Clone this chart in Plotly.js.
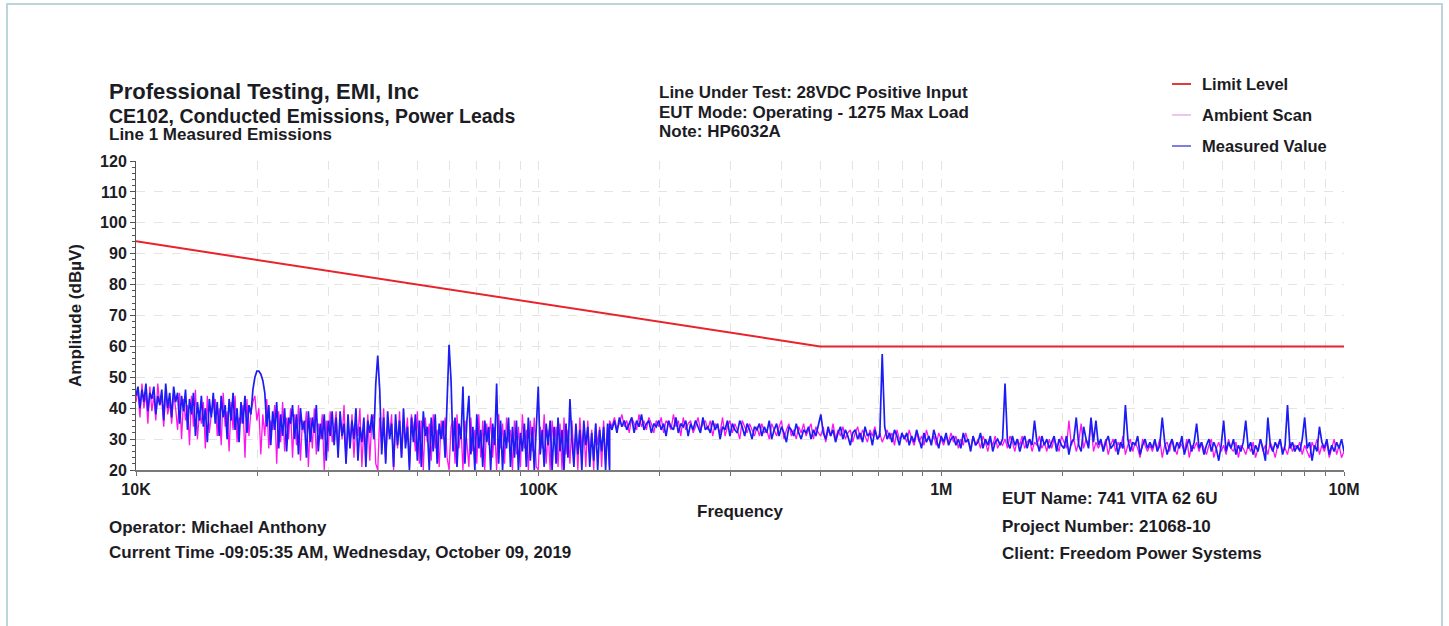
<!DOCTYPE html>
<html>
<head>
<meta charset="utf-8">
<script src="https://cdn.plot.ly/plotly-3.0.1.min.js"></script>
<style>
  html, body { margin: 0; padding: 0; background: #ffffff; }
  #frame { position: absolute; left: 6px; top: 3px; width: 1437px; height: 700px; border: 2px solid #bcd5dd; box-sizing: border-box; pointer-events: none; }
  #chart { position: absolute; left: 0; top: 0; width: 1449px; height: 626px; }
</style>
</head>
<body>
<div id="chart"></div>
<div id="frame"></div>
<script>
// ---- Data (dBµV) ----
// Band 1: 10 kHz .. 150 kHz sweep
const MEASURED_LOW = [
  44,47,40,46,42,48,39,45,43,47,38,44,41,46,36,48,40,45,37,47,
  42,45,35,44,39,46,33,43,38,45,31,42,36,44,34,40,29,43,37,45,
  35,42,31,44,37,41,30,43,36,45,33,40,29,42,35,44,32,41,38,46,
  50,52,52,51,49,45,34,41,28,39,33,42,27,38,31,40,26,37,35,41,
  30,38,25,40,33,36,24,39,29,37,32,41,26,35,30,38,23,36,31,39,
  28,37,24,39,31,35,22,38,27,36,30,40,23,34,29,37,21,36,32,38,
  30,48,57,46,25,37,22,39,30,35,21,38,28,36,24,40,27,34,20,37,
  29,38,23,36,21,39,31,34,20,37,26,38,22,35,30,36,24,45,60.5,49,
  26,37,21,35,30,47,22,36,44,25,34,20,38,27,33,21,36,29,34,20,
  35,28,48,22,36,20,33,27,37,21,34,24,36,20,32,26,35,21,37,23,
  34,20,36,47,25,33,21,35,28,36,20,34,22,37,26,33,20,35,24,43,
  30,21,35,25,33,20,36,28,34,21,32,23,35,20,33,26,34,20,35,20
];
const AMBIENT_LOW = [
  42,46,37,48,40,45,35,47,39,44,36,48,41,43,34,46,38,42,35,45,
  40,33,45,30,43,36,41,28,44,34,46,30,39,35,42,27,44,32,38,41,
  43,31,40,28,45,34,39,26,42,33,44,29,37,35,41,24,43,31,39,42,
  44,36,40,25,38,31,43,27,36,33,41,22,39,29,42,26,37,30,40,24,
  38,28,41,23,36,32,39,21,37,27,40,25,35,30,38,20,36,26,39,29,
  33,39,25,37,30,41,22,35,28,38,24,36,31,40,21,34,27,38,23,36,
  38,22,20,37,28,40,23,35,31,38,20,36,27,39,24,34,30,37,21,38,
  34,26,39,22,36,20,37,29,35,23,38,27,33,21,36,30,37,24,20,34,
  36,22,38,27,34,20,36,29,21,37,26,33,22,38,24,36,20,35,28,37,
  24,34,20,38,27,35,22,37,29,33,20,36,25,34,21,38,27,33,20,36,
  26,37,21,20,34,27,38,22,33,20,36,28,34,21,35,20,37,25,33,22,
  36,24,33,20,37,27,34,21,36,25,33,20,35,28,34,21,36,23,34,21
];
// Band 2: 150 kHz .. 10 MHz sweep
const MEASURED_HIGH = [
  35,33,36,32,37,34,36,33,35,37,32,36,34,38,33,35,36,32,35,34,
  36,33,35,31,36,34,33,37,32,35,34,36,31,35,33,36,34,32,37,33,
  34,32,36,33,35,30,34,33,36,31,35,33,32,36,34,31,35,33,30,34,
  33,35,31,34,32,36,30,33,35,31,34,32,29,34,33,31,35,32,30,33,
  32,34,30,33,31,35,38,32,30,34,31,33,29,32,34,30,33,31,28,32,
  33,30,32,29,34,31,32,28,33,30,31,57.5,34,30,32,29,33,31,28,32,
  30,32,28,31,29,33,30,27,32,29,31,28,33,30,27,31,29,32,28,30,
  31,28,30,27,32,29,30,26,31,28,29,32,27,30,28,31,26,29,30,28,
  30,48,29,27,31,28,30,26,29,31,27,30,28,36,29,26,31,28,30,27,
  29,31,26,30,28,27,31,25,29,30,37,28,26,34,30,27,37,29,36,28,
  30,26,29,31,27,28,30,25,29,27,41,30,26,29,28,31,25,28,30,27,
  29,27,30,26,28,37,29,25,28,30,26,29,27,31,25,28,30,26,29,35,
  27,29,25,28,30,26,29,27,23,28,36,26,29,27,30,25,28,26,29,36,
  27,29,25,28,26,30,27,23,37,28,26,29,27,30,25,28,41,27,29,26,
  28,26,30,37,27,29,23,28,26,34,29,27,30,25,28,26,29,27,30,26
];
const AMBIENT_HIGH = [
  36,34,37,33,35,38,34,36,32,37,35,33,38,34,36,33,37,35,32,36,
  34,37,32,36,35,33,38,34,36,31,37,33,35,36,32,34,37,33,35,36,
  33,36,31,35,34,32,37,31,34,36,32,35,33,30,36,34,32,35,33,31,
  34,31,35,32,33,30,35,33,31,34,36,30,33,35,31,33,30,34,32,35,
  31,33,35,30,34,32,31,34,29,33,31,35,30,33,31,34,30,32,33,29,
  32,34,30,33,31,29,33,31,34,30,32,29,31,33,30,32,28,33,30,31,
  31,29,33,30,28,32,29,31,28,33,30,29,31,28,32,30,28,31,29,32,
  29,31,27,30,28,32,29,27,31,28,30,27,31,29,26,30,28,31,27,29,
  28,30,27,31,29,26,30,28,31,27,29,30,26,29,28,31,27,29,26,30,
  27,30,28,26,31,29,27,36,28,30,26,29,35,27,30,28,36,26,29,27,
  29,27,30,25,28,30,26,29,27,31,25,28,30,26,29,27,24,30,28,26,
  28,26,29,27,30,24,28,29,26,30,27,25,29,28,26,30,24,28,27,29,
  26,29,27,25,28,30,24,27,29,26,28,25,30,27,26,29,24,28,27,25,
  28,26,29,24,27,30,26,28,25,29,27,24,28,30,26,27,25,29,26,28,
  27,29,25,28,26,24,29,27,30,25,28,26,29,24,27,30,25,28,24,26
];
const BAND_EDGES = [1e4, 1.5e5, 1e7];   // sweep band limits (Hz)
const LIMIT_FREQ = [1e4, 5e5, 1e7];
const LIMIT_DB = [94, 60, 60];

const X_TICK_VALUES = [1e4,2e4,3e4,4e4,5e4,6e4,7e4,8e4,9e4,1e5,2e5,3e5,4e5,5e5,6e5,7e5,8e5,9e5,1e6,2e6,3e6,4e6,5e6,6e6,7e6,8e6,9e6,1e7];
const X_TICK_LABELS = ['10K','','','','','','','','','100K','','','','','','','','','1M','','','','','','','','','10M'];
const Y_TICK_VALUES = [20,30,40,50,60,70,80,90,100,110,120];

const HEADER_LEFT = ['Professional Testing, EMI, Inc', 'CE102, Conducted Emissions, Power Leads', 'Line 1 Measured Emissions'];
const HEADER_MID = ['Line Under Test: 28VDC Positive Input', 'EUT Mode: Operating - 1275 Max Load', 'Note: HP6032A'];
const FOOTER_LEFT = ['Operator: Michael Anthony', 'Current Time -09:05:35 AM, Wednesday, October 09, 2019'];
const FOOTER_RIGHT = ['EUT Name: 741 VITA 62 6U', 'Project Number: 21068-10', 'Client: Freedom Power Systems'];
const LEGEND_NAMES = ['Limit Level', 'Ambient Scan', 'Measured Value'];

// ---- receiver sweep grid: log-spaced steps inside each band ----
function sweep(values, f0, f1) {
  const n = values.length;
  return values.map((_, i) => f0 * Math.pow(f1 / f0, i / (n - 1)));
}
const FREQ_M = sweep(MEASURED_LOW, BAND_EDGES[0], BAND_EDGES[1]).concat(sweep(MEASURED_HIGH, BAND_EDGES[1], BAND_EDGES[2]));
const FREQ_A = sweep(AMBIENT_LOW, BAND_EDGES[0], BAND_EDGES[1]).concat(sweep(AMBIENT_HIGH, BAND_EDGES[1], BAND_EDGES[2]));
const MEASURED = MEASURED_LOW.concat(MEASURED_HIGH);
const AMBIENT = AMBIENT_LOW.concat(AMBIENT_HIGH);

const FONT = 'Liberation Sans, Arial, Helvetica, sans-serif';
const TXT = '#1c1c24';

// layout pixel helpers (plot area: x 136..1344, y 161..470)
const L = 136, R = 1344, T = 161, B = 470;
const px = x => (x - L) / (R - L);
const py = y => (B - y) / (B - T);

const traces = [
  { x: FREQ_A, y: AMBIENT, type: 'scatter', mode: 'lines', name: LEGEND_NAMES[1],
    line: { color: '#ff14f0', width: 1.3 }, showlegend: false },
  { x: FREQ_M, y: MEASURED, type: 'scatter', mode: 'lines', name: LEGEND_NAMES[2],
    line: { color: '#1c1cf5', width: 1.7 }, showlegend: false },
  { x: LIMIT_FREQ, y: LIMIT_DB, type: 'scatter', mode: 'lines', name: LEGEND_NAMES[0],
    line: { color: '#e8232a', width: 2 }, showlegend: false }
];

const ann = [];
const bold = (size) => ({ family: FONT, size: size, color: TXT, weight: 'bold' });
const sizesL = [22, 19.5, 17];
const ysL = [91, 116, 134];
HEADER_LEFT.forEach((t, i) => ann.push({ text: t, xref: 'paper', yref: 'paper', x: px(107), y: py(ysL[i]),
  xanchor: 'left', yanchor: 'middle', showarrow: false, font: bold(sizesL[i]) }));
const ysM = [92, 112, 132];
HEADER_MID.forEach((t, i) => ann.push({ text: t, xref: 'paper', yref: 'paper', x: px(657), y: py(ysM[i]),
  xanchor: 'left', yanchor: 'middle', showarrow: false, font: bold(17) }));
const ysFL = [527, 552];
FOOTER_LEFT.forEach((t, i) => ann.push({ text: t, xref: 'paper', yref: 'paper', x: px(107), y: py(ysFL[i]),
  xanchor: 'left', yanchor: 'middle', showarrow: false, font: bold(17) }));
const ysFR = [498, 526, 553];
FOOTER_RIGHT.forEach((t, i) => ann.push({ text: t, xref: 'paper', yref: 'paper', x: px(1000), y: py(ysFR[i]),
  xanchor: 'left', yanchor: 'middle', showarrow: false, font: bold(17) }));

// legend, drawn to match the reference's spacing
const legY = [84, 115, 146];
const legColors = ['#e23b3b', '#eec4f0', '#7f7fe2'];
const shapes = [];
LEGEND_NAMES.forEach((t, i) => {
  ann.push({ text: t, xref: 'paper', yref: 'paper', x: px(1200), y: py(legY[i]),
    xanchor: 'left', yanchor: 'middle', showarrow: false, font: bold(16.5) });
  shapes.push({ type: 'line', xref: 'paper', yref: 'paper', x0: px(1172), x1: px(1191), y0: py(legY[i]), y1: py(legY[i]),
    line: { color: legColors[i], width: 2 } });
});

const layout = {
  width: 1449, height: 626,
  margin: { l: L, r: 1449 - R, t: T, b: 626 - B, pad: 0 },
  paper_bgcolor: 'rgba(0,0,0,0)', plot_bgcolor: '#ffffff',
  showlegend: false,
  font: { family: FONT, color: TXT },
  xaxis: {
    type: 'log', range: [4, 7], autorange: false,
    tickvals: X_TICK_VALUES, ticktext: X_TICK_LABELS,
    ticks: 'outside', ticklen: 4, tickwidth: 1, tickcolor: '#6e6e6e',
    tickfont: bold(16),
    showgrid: true, gridcolor: '#e4e4e4', griddash: 'dash', gridwidth: 1,
    showline: true, linecolor: '#7a7a7a', linewidth: 2,
    zeroline: false,
    title: { text: 'Frequency', font: bold(17), standoff: 8 }
  },
  yaxis: {
    range: [20, 120], autorange: false,
    tickvals: Y_TICK_VALUES,
    ticks: 'outside', ticklen: 5, tickwidth: 1, tickcolor: '#555555',
    minor: { dtick: 2, tick0: 20, ticks: 'outside', ticklen: 3, tickcolor: '#555555', showgrid: false },
    tickfont: bold(16),
    showgrid: true, gridcolor: '#e4e4e4', griddash: 'dash', gridwidth: 1,
    showline: true, linecolor: '#555555', linewidth: 1,
    zeroline: false,
    title: { text: 'Amplitude (dBµV)', font: bold(17), standoff: 14 }
  },
  yaxis2: {
    overlaying: 'y', range: [20, 120], autorange: false, side: 'left',
    tickvals: Y_TICK_VALUES, showticklabels: false,
    ticks: 'inside', ticklen: 4, tickwidth: 1, tickcolor: '#555555',
    minor: { dtick: 2, tick0: 20, ticks: 'inside', ticklen: 3, tickcolor: '#555555' },
    showgrid: false, zeroline: false, showline: false
  },
  annotations: ann,
  shapes: shapes
};

Plotly.newPlot('chart', traces, layout, { staticPlot: true, displayModeBar: false });
</script>
</body>
</html>
